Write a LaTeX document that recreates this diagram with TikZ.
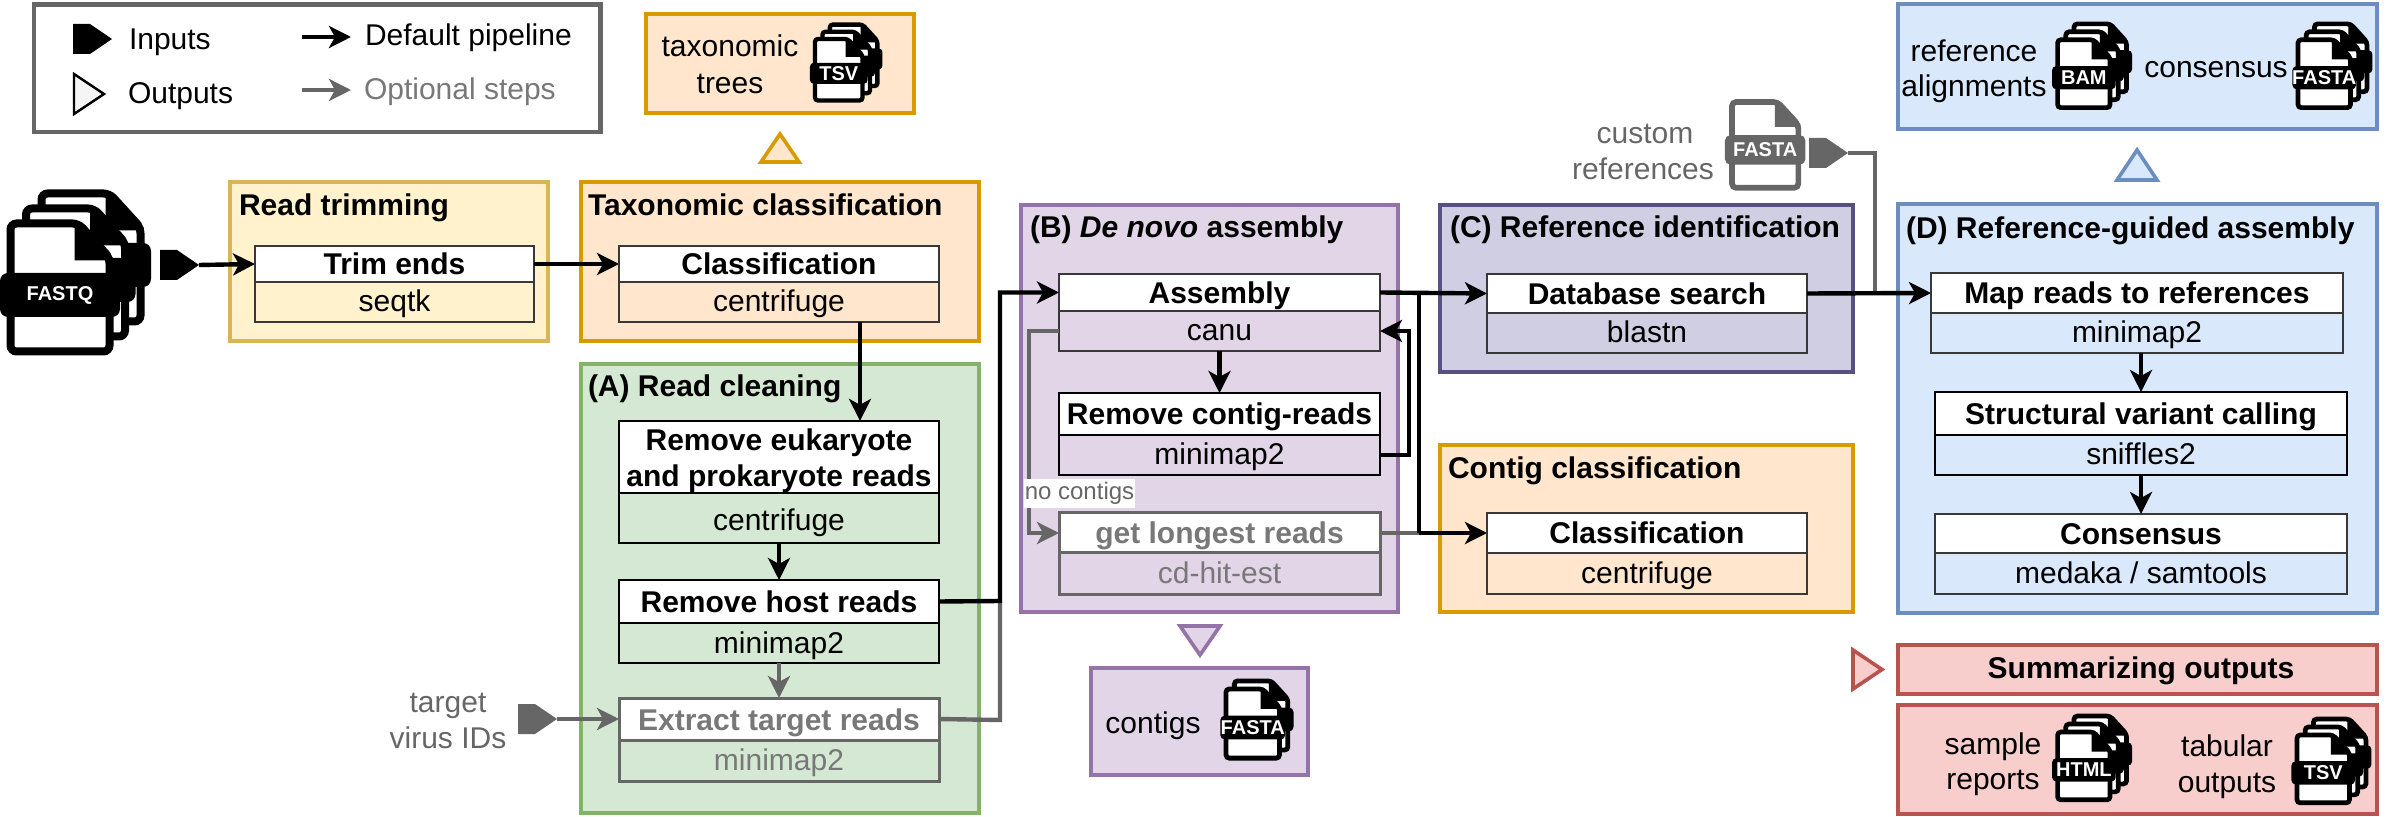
\documentclass[tikz,border=0pt]{standalone}
\usepackage{fontspec}
\setmainfont{Liberation Sans}
\usetikzlibrary{arrows.meta}
\definecolor{orF}{HTML}{FFE6CC}\definecolor{orD}{HTML}{D79B00}
\definecolor{yeF}{HTML}{FFF2CC}\definecolor{yeD}{HTML}{D6B656}
\definecolor{grF}{HTML}{D5E8D4}\definecolor{grD}{HTML}{82B366}
\definecolor{puF}{HTML}{E1D5E7}\definecolor{puD}{HTML}{9673A6}
\definecolor{inF}{HTML}{D0CEE2}\definecolor{inD}{HTML}{56517E}
\definecolor{blF}{HTML}{DAE8FC}\definecolor{blD}{HTML}{6C8EBF}
\definecolor{reF}{HTML}{F8CECC}\definecolor{reD}{HTML}{B85450}
\definecolor{optline}{HTML}{666666}\definecolor{opttext}{HTML}{787878}
\tikzset{
  x=0.5pt,y=-0.5pt,
  every node/.style={inner sep=0pt,outer sep=0pt,font=\fontsize{15}{18}\selectfont},
  groupbox/.style={draw,line width=2pt,rectangle},
  headbox/.style={draw=black,line width=1.25pt,rectangle,font=\fontsize{15}{18}\bfseries\selectfont,align=center},
  subbox/.style={draw=black,line width=1.25pt,rectangle},
  softedge/.style={draw=black!78,line width=1.25pt},
  optstep/.style={draw=optline,text=opttext,line width=1.5pt},
  title/.style={anchor=base west,font=\fontsize{15}{18}\bfseries\selectfont},
  txt/.style={anchor=base},
  txtw/.style={anchor=base west},
  flow/.style={draw=black,line width=2.2pt,-{Stealth[length=11pt,width=11pt,inset=3pt]}},
  flowplain/.style={draw=black,line width=2.2pt},
  optflow/.style={draw=optline,line width=2.2pt,-{Stealth[length=11pt,width=11pt,inset=3pt]}},
  optplain/.style={draw=optline,line width=2.2pt},
  outmark/.style={line width=1.8pt,line join=miter},
}
\newcommand{\headline}[1]{\smash{#1}\rule{0pt}{11pt}}
\newcommand{\subline}[1]{\smash{#1}\rule{0pt}{10pt}}
% options, name, x1, y1, x2, y2
\newcommand{\grp}[6]{%
  \pgfmathsetmacro{\gw}{#5-#3-3.4}\pgfmathsetmacro{\gh}{#6-#4-3.4}%
  \node[groupbox,#1,minimum width=\gw*0.5pt,minimum height=\gh*0.5pt] (#2) at ({(#3+#5)/2},{(#4+#6)/2}) {};}
% options, name, x1, x2, y1, ymid, y2, head, sub
\newcommand{\procbox}[9]{%
  \pgfmathsetmacro{\pw}{#4-#3}\pgfmathsetmacro{\ph}{#6-#5}\pgfmathsetmacro{\qh}{#7-#6}%
  \node[subbox,#1,minimum width=\pw*0.5pt,minimum height=\qh*0.5pt] (#2S) at ({(#3+#4)/2},{(#6+#7)/2}) {\subline{#9}};
  \node[headbox,#1,fill=white,minimum width=\pw*0.5pt,minimum height=\ph*0.5pt] (#2H) at ({(#3+#4)/2},{(#5+#6)/2}) {#8};}
% x0, y0, scale, colour
\newcommand{\onedoc}[4]{%
  \begin{scope}[shift={(#1,#2)}]
    \filldraw[fill=white,draw=#4,line width=3.5pt*#3+0.5pt,rounded corners=3pt*#3,scale=#3]
      (0,0) -- (68,0) -- (99,34) -- (99,128) -- (0,128) -- cycle;
    \fill[#4,scale=#3] (64,0) -- (68,-2) -- (102,34) -- (102,37) -- (64,37) -- cycle;
    \fill[#4,rounded corners=4pt*#3,scale=#3] (-10.5,49.5) rectangle (109.5,93.5);
  \end{scope}}
% x0, y0, scale, layers, label, colour
\newcommand{\fileicon}[6]{%
  \ifnum#4>2 \onedoc{#1+31*#3}{#2-30*#3}{#3}{#6}\fi
  \ifnum#4>1 \onedoc{#1+15.5*#3}{#2-15*#3}{#3}{#6}\fi
  \onedoc{#1}{#2}{#3}{#6}
  \node[text=white,font=\fontsize{10}{11}\bfseries\selectfont] at ({#1+49.5*#3},{#2+71.5*#3}) {#5};}
% x, y, colour, tip-coordinate name
\newcommand{\penta}[4]{%
  \fill[#3] (#1,#2) -- ++(17,0) -- ++(22,15) -- ++(-22,15) -- ++(-17,0) -- cycle;
  \coordinate (#4) at ({#1+39},{#2+15});}
\begin{document}
\begin{tikzpicture}
\useasboundingbox (0,0) rectangle (2392,817);
% legend
\grp{draw=optline,line width=2.2pt}{legend}{32}{3}{602}{134}
\penta{73}{24}{black}{legIn}
\draw[fill=black!4,draw=black,line width=1.2pt] (74,74) -- (104,94) -- (74,114) -- cycle;
\node[txtw] (tInputs) at (129,50) {Inputs};
\node[txtw] (tOutputs) at (128,104) {Outputs};
\node[txtw] (tDefault) at (365,46) {Default pipeline};
\node[txtw,text=opttext] (tOptional) at (364,100) {Optional steps};
\coordinate (legA1) at (302,37);\coordinate (legA2) at (351,37);
\coordinate (legB1) at (302,90);\coordinate (legB2) at (351,90);
\draw[flow] (legA1) -- (legA2);
\draw[optflow] (legB1) -- (legB2);
% group boxes
\grp{fill=orF,draw=orD}{gTrees}{644}{12}{916}{115}
\grp{fill=yeF,draw=yeD}{gTrim}{228}{180}{550}{343}
\grp{fill=orF,draw=orD}{gTax}{579}{180}{981}{343}
\grp{fill=grF,draw=grD}{gClean}{579}{362}{981}{815}
\grp{fill=puF,draw=puD}{gDenovo}{1019}{203}{1400}{614}
\grp{fill=inF,draw=inD}{gRef}{1438}{203}{1855}{374}
\grp{fill=orF,draw=orD}{gContig}{1438}{443}{1855}{614}
\grp{fill=puF,draw=puD}{gContigs}{1089}{666}{1310}{777}
\grp{fill=blF,draw=blD}{gCons}{1896}{2}{2379}{131}
\grp{fill=blF,draw=blD}{gGuided}{1896}{202}{2379}{615}
\grp{fill=reF,draw=reD}{gSum}{1896}{643}{2379}{696}
\grp{fill=reF,draw=reD}{gSumOut}{1896}{703}{2379}{816}
% output marks
\draw[outmark,fill=orF,draw=orD] (761,162) -- (799,162) -- (780,134) -- cycle;
\draw[outmark,fill=puF,draw=puD] (1180,626) -- (1220,626) -- (1200,655) -- cycle;
\draw[outmark,fill=blF,draw=blD] (2117,180) -- (2157,180) -- (2137,150) -- cycle;
\draw[outmark,fill=reF,draw=reD] (1853,650) -- (1882,669.5) -- (1853,689) -- cycle;
% titles
\node[title] (tTrim) at (239,216) {Read trimming};
\node[title] (tTax) at (588,216) {Taxonomic classification};
\node[title] (tClean) at (588,397) {(A) Read cleaning};
\node[title] (tDenovo) at (1030,238) {(B) \textit{De novo} assembly};
\node[title] (tRef) at (1450,238) {(C) Reference identification};
\node[title] (tContig) at (1448,479) {Contig classification};
\node[title] (tGuided) at (1906,239) {(D) Reference-guided assembly};
\node[txt,font=\fontsize{15}{18}\bfseries\selectfont] (tSum) at (2141,678) {Summarizing outputs};
% steps
\procbox{fill=yeF,softedge}{trim}{255}{534}{246}{282}{322}{\headline{Trim ends}}{seqtk}
\procbox{fill=orF,softedge}{cls}{619}{939}{246}{282}{322}{\headline{Classification}}{centrifuge}
\procbox{fill=grF}{euk}{619}{939}{421}{493}{543}{\rule{0pt}{15pt}Remove eukaryote\\and prokaryote reads}{\raisebox{-1.5pt}{centrifuge}}
\procbox{fill=grF}{host}{619}{939}{580}{623}{663}{\headline{Remove host reads}}{minimap2}
\procbox{fill=grF,optstep}{ext}{619}{939}{698}{740}{781}{\headline{Extract target reads}}{minimap2}
\procbox{fill=puF,softedge}{asm}{1059}{1380}{274}{311}{351}{\headline{Assembly}}{canu}
\procbox{fill=puF}{rc}{1059}{1380}{393}{435}{475}{\headline{Remove contig-reads}}{minimap2}
\procbox{fill=puF,optstep}{long}{1059}{1380}{513}{553}{594}{\headline{get longest reads}}{cd-hit-est}
\procbox{fill=inF,softedge}{db}{1487}{1807}{274}{313}{353}{\headline{Database search}}{blastn}
\procbox{fill=orF,softedge}{ccl}{1487}{1807}{513}{553}{594}{\headline{Classification}}{centrifuge}
\procbox{fill=blF,softedge}{map}{1931}{2343}{273}{313}{353}{\headline{Map reads to references}}{minimap2}
\procbox{fill=blF}{sv}{1935}{2347}{392}{435}{475}{\headline{Structural variant calling}}{sniffles2}
\procbox{fill=blF,softedge}{con}{1935}{2347}{514}{553}{594}{\headline{Consensus}}{medaka / samtools}
% free labels
\node[txt] (tTaxo) at (730,57) {taxonomic};
\node[txt] (tTrees) at (730,94) {trees};
\node[txt] (tContigs) at (1153,733) {contigs};
\node[txt] (tRefAl1) at (1974,62) {reference};
\node[txt] (tRefAl2) at (1974,97) {alignments};
\node[txt] (tConsensus) at (2216,78) {consensus};
\node[txt] (tSam1) at (1993,754) {sample};
\node[txt] (tSam2) at (1993,789) {reports};
\node[txt] (tTab1) at (2227,756) {tabular};
\node[txt] (tTab2) at (2227,792) {outputs};
\node[txt,text=optline] (tVir1) at (448,712) {target};
\node[txt,text=optline] (tVir2) at (448,748) {virus IDs};
\node[txt,text=optline] (tCus1) at (1645,144) {custom};
\node[txt,text=optline] (tCus2) at (1643,180) {references};
% file icons
\fileicon{10.5}{223.5}{1}{3}{FASTQ}{black}
\fileicon{815}{39}{0.48}{3}{TSV}{black}
\fileicon{2057.6}{39.8}{0.53}{3}{BAM}{black}
\fileicon{2298}{39.8}{0.53}{3}{FASTA}{black}
\fileicon{1226}{689}{0.54}{2}{FASTA}{black}
\fileicon{2057.6}{732}{0.53}{3}{HTML}{black}
\fileicon{2297}{735}{0.53}{3}{TSV}{black}
\fileicon{1732}{102}{0.67}{1}{FASTA}{optline}
% inputs
\penta{160}{250}{black}{inFastq}
\penta{518}{704}{optline}{inVirus}
\penta{1809}{138}{optline}{inCustom}
% helper coordinates
\coordinate (bendA) at (1000,601);
\coordinate (bendB) at (1000,720);
\coordinate (branch) at (1419,292.5);
\coordinate (loopX) at (1409,455);
\coordinate (noC) at (1029,331);
\coordinate (cusX) at (1875,153);
% optional connectors
\draw[optplain] (extH.east) -- (bendB) -- (bendA);
\draw[optflow] (hostS.south) -- (extH.north);
\draw[optflow] (inVirus) -- (extH.west);
\draw[optplain] (longH.east) -- (branch |- longH.east);
\draw[optflow] (asmS.west) -- (noC) |- (longH.west);
\draw[optplain] (inCustom) -- (cusX) -- (cusX |- dbH.east);
% default connectors
\draw[flow] (inFastq) -- (trimH.west);
\draw[flow] (trimH.east) -- (clsH.west);
\draw[flow] ([xshift=40.5pt]clsS.south) -- ([xshift=40.5pt]eukH.north);
\draw[flow] (eukS.south) -- (hostH.north);
\draw[flow] (hostH.east) -- (bendA) |- (asmH.west);
\draw[flow] (asmH.east) -- (dbH.west);
\draw[flowplain] (branch) -- (branch |- cclH.west);
\draw[flow] (branch |- cclH.west) -- (cclH.west);
\draw[flow] (asmS.south) -- (rcH.north);
\draw[flow] (rcS.east) -- (loopX) |- (asmS.east);
\draw[flow] (dbH.east) -- (mapH.west);
\draw[flow] ([xshift=2pt]mapS.south) -- (svH.north);
\draw[flow] (svS.south) -- (conH.north);
% label on connector
\node[fill=white,text=optline,font=\fontsize{12}{14}\selectfont,inner xsep=0.5pt,inner ysep=1.5pt,text height=9pt,text depth=2.5pt] (noLabel) at (1079.5,493.5) {no contigs};
\end{tikzpicture}
\end{document}
